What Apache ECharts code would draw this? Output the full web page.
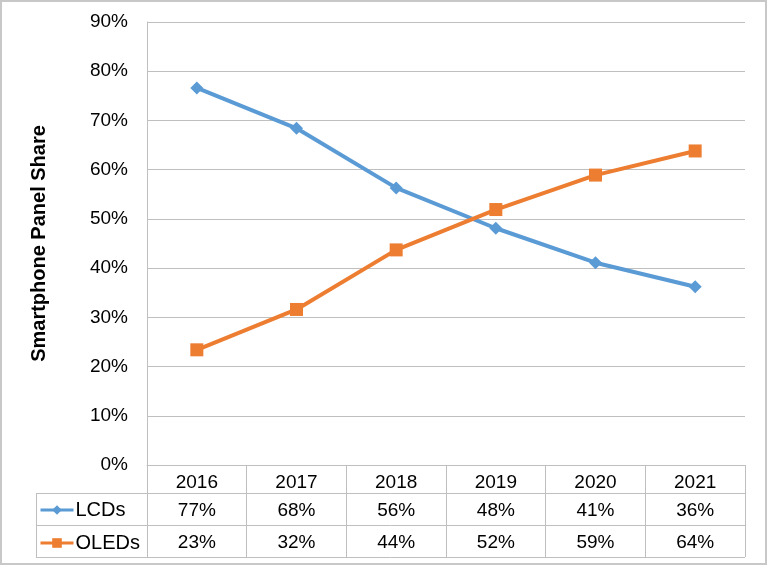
<!DOCTYPE html>
<html>
<head>
<meta charset="utf-8">
<style>
html,body{margin:0;padding:0;background:#fff;}
#chart{width:768px;height:566px;}
</style>
<script src="https://cdn.jsdelivr.net/npm/echarts@6/dist/echarts.min.js"></script>
</head>
<body>
<div id="chart"></div>
<script>
var years = ['2016', '2017', '2018', '2019', '2020', '2021'];
var lcdShare = [0.766, 0.684, 0.563, 0.481, 0.411, 0.362];
var oledShare = [0.234, 0.316, 0.437, 0.519, 0.589, 0.638];
var yTicks = { min: 0, max: 0.9, interval: 0.1 };

var FONT = '"Liberation Sans", Arial, Helvetica, sans-serif';
var GRID = '#BFBFBF';
function pct(v) { return Math.round(v * 100) + '%'; }

var chart = echarts.init(document.getElementById('chart'));
chart.setOption({
  animation: false,
  backgroundColor: '#fff',
  textStyle: { fontFamily: FONT },
  grid: { left: 147, right: 23, top: 22, bottom: 101, containLabel: false },
  legend: {
    orient: 'vertical',
    left: 39,
    top: 500,
    padding: 0,
    itemWidth: 33,
    itemHeight: 12,
    itemGap: 13,
    data: ['LCDs', 'OLEDs'],
    lineStyle: { width: 3 },
    textStyle: { fontFamily: FONT, fontSize: 20, color: '#000', padding: [0, 0, 0, -3] }
  },
  xAxis: [
    {
      type: 'category',
      data: years,
      boundaryGap: true,
      axisLine: { show: true, lineStyle: { color: GRID, width: 1 } },
      axisTick: { show: true, interval: 0, length: 92, lineStyle: { color: GRID, width: 1 } },
      axisLabel: { fontFamily: FONT, fontSize: 19, color: '#000', margin: 8, interval: 0 },
      splitLine: { show: false }
    },
    {
      type: 'category',
      position: 'bottom',
      offset: 28,
      data: lcdShare.map(pct),
      axisLine: { show: false }, axisTick: { show: false },
      axisLabel: { fontFamily: FONT, fontSize: 19, color: '#000', margin: 8, interval: 0 }
    },
    {
      type: 'category',
      position: 'bottom',
      offset: 60,
      data: oledShare.map(pct),
      axisLine: { show: false }, axisTick: { show: false },
      axisLabel: { fontFamily: FONT, fontSize: 19, color: '#000', margin: 8, interval: 0 }
    }
  ],
  yAxis: {
    type: 'value',
    min: yTicks.min, max: yTicks.max, interval: yTicks.interval,
    name: 'Smartphone Panel Share',
    nameLocation: 'middle',
    nameGap: 98,
    nameTextStyle: { fontFamily: FONT, fontSize: 20, fontWeight: 'bold', color: '#000' },
    axisLine: { show: true, lineStyle: { color: GRID, width: 1 } },
    axisTick: { show: false },
    axisLabel: { fontFamily: FONT, fontSize: 19, color: '#000', margin: 19, padding: [6, 0, 0, 0], formatter: function (v) { return Math.round(v * 100) + '%'; } },
    splitLine: { show: true, lineStyle: { color: GRID, width: 1 } }
  },
  series: [
    {
      name: 'LCDs', type: 'line', data: lcdShare, xAxisIndex: 0,
      symbol: 'diamond', symbolSize: 13,
      lineStyle: { color: '#5B9BD5', width: 4 },
      itemStyle: { color: '#5B9BD5' }
    },
    {
      name: 'OLEDs', type: 'line', data: oledShare, xAxisIndex: 0,
      symbol: 'rect', symbolSize: 13,
      lineStyle: { color: '#ED7D31', width: 4 },
      itemStyle: { color: '#ED7D31' }
    }
  ],
  graphic: [
    { type: 'rect', shape: { x: 1, y: 1, width: 765, height: 563 }, style: { fill: 'none', stroke: '#C8C8C8', lineWidth: 2 }, silent: true },
    { type: 'line', shape: { x1: 36, y1: 493.5, x2: 745, y2: 493.5 }, style: { stroke: GRID, lineWidth: 1 }, silent: true },
    { type: 'line', shape: { x1: 36, y1: 525.5, x2: 745, y2: 525.5 }, style: { stroke: GRID, lineWidth: 1 }, silent: true },
    { type: 'line', shape: { x1: 36, y1: 557.5, x2: 745, y2: 557.5 }, style: { stroke: GRID, lineWidth: 1 }, silent: true },
    { type: 'line', shape: { x1: 36.5, y1: 493, x2: 36.5, y2: 558 }, style: { stroke: GRID, lineWidth: 1 }, silent: true }
  ]
});
</script>
</body>
</html>
